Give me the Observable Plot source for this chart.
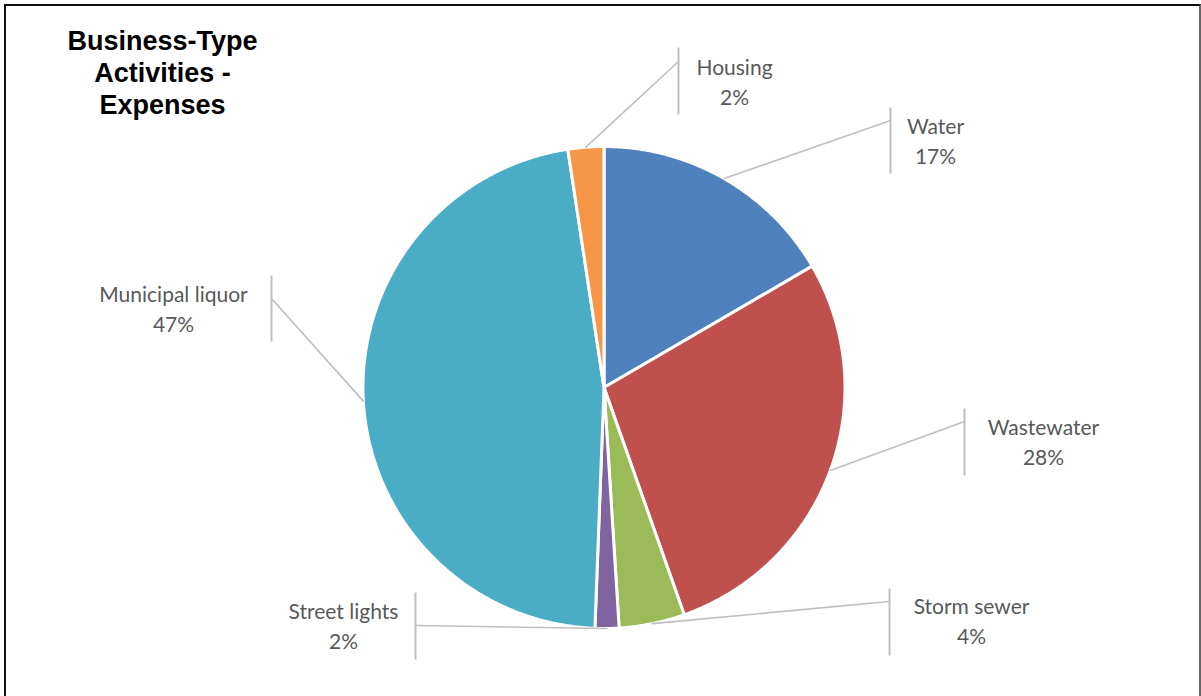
<!DOCTYPE html>
<html>
<head>
<meta charset="utf-8">
<script src="https://cdn.jsdelivr.net/npm/d3@7"></script>
<script src="https://cdn.jsdelivr.net/npm/@observablehq/plot@0.6"></script>
<style>
  html, body { margin: 0; padding: 0; background: #fff; }
  #wrap { position: relative; width: 1201px; height: 696px; overflow: hidden; }
  #border { position: absolute; left: 4px; top: 4px; width: 1193px; height: 700px;
            border-left: 2px solid #111; border-top: 2px solid #111; border-right: 2px solid #666;
            pointer-events: none; }
</style>
</head>
<body>
<div id="wrap"><div id="border"></div></div>
<script>
// ---- data ----
const categories = ["Water", "Wastewater", "Storm sewer", "Street lights", "Municipal liquor", "Housing"];
const values = [16.6, 28.0, 4.4, 1.6, 47.0, 2.4];
const colors = ["#4F81BD", "#C0504D", "#9BBB59", "#8064A2", "#4BACC6", "#F79646"];
const titleText = "Business-Type\nActivities -\nExpenses";

// ---- label layout (pixel positions chosen as in the reference) ----
const cx = 603.5, cy = 387, R = 241;
const toX = px => (px - cx) / R;
const toY = py => (cy - py) / R;
const labelLayout = {
  "Water":            {barX: 890, barY1: 107, barY2: 173, elbowY: 120, textX: 935,  textY: 139},
  "Wastewater":       {barX: 964, barY1: 408, barY2: 475, elbowY: 421, textX: 1043, textY: 440},
  "Storm sewer":      {barX: 889, barY1: 588, barY2: 655, elbowY: 601, textX: 971,  textY: 619},
  "Street lights":    {barX: 415, barY1: 592, barY2: 659, elbowY: 625, textX: 343,  textY: 624},
  "Municipal liquor": {barX: 271, barY1: 275, barY2: 341, elbowY: 298, textX: 173,  textY: 307},
  "Housing":          {barX: 678, barY1: 47,  barY2: 114, elbowY: 61,  textX: 734,  textY: 80}
};

const total = d3.sum(values);
const table = categories.map((c, i) => ({name: c, value: values[i], color: colors[i],
  pct: Math.round(values[i] / total * 100) + "%"}));

const arcs = d3.pie().sort(null).value(d => d.value).startAngle(0).endAngle(2 * Math.PI)(table);

// polygon points for each slice (unit circle coordinates)
const slicePts = [];
for (const a of arcs) {
  slicePts.push({name: a.data.name, color: a.data.color, x: 0, y: 0});
  const steps = Math.max(4, Math.ceil((a.endAngle - a.startAngle) / (Math.PI / 360)));
  for (let k = 0; k <= steps; k++) {
    const t = a.startAngle + (a.endAngle - a.startAngle) * k / steps;
    slicePts.push({name: a.data.name, color: a.data.color, x: Math.sin(t), y: Math.cos(t)});
  }
}

// leader lines
const leaderPts = [];
const barSegs = [];
const labels = [];
for (const a of arcs) {
  const L = labelLayout[a.data.name];
  const m = (a.startAngle + a.endAngle) / 2;
  leaderPts.push({name: a.data.name, x: Math.sin(m), y: Math.cos(m)});
  leaderPts.push({name: a.data.name, x: toX(L.barX), y: toY(L.elbowY)});
  barSegs.push({x1: toX(L.barX), y1: toY(L.barY1), x2: toX(L.barX), y2: toY(L.barY2)});
  labels.push({x: toX(L.textX), y: toY(L.textY), text: a.data.name + "\n" + a.data.pct});
}

const chart = Plot.plot({
  width: 1201,
  height: 696,
  margin: 0,
  style: {background: "transparent"},
  x: {domain: [-1, 1], range: [cx - R, cx + R], axis: null},
  y: {domain: [-1, 1], range: [cy + R, cy - R], axis: null},
  marks: [
    Plot.line(slicePts, {x: "x", y: "y", z: "name", fill: "color", stroke: "white",
      strokeWidth: 3, curve: "linear-closed", strokeLinejoin: "round"}),
    Plot.line(leaderPts, {x: "x", y: "y", z: "name", stroke: "#BFBFBF", strokeWidth: 1.6}),
    Plot.link(barSegs, {x1: "x1", y1: "y1", x2: "x2", y2: "y2", stroke: "#BFBFBF", strokeWidth: 2}),
    Plot.text(labels, {x: "x", y: "y", text: "text", fill: "#595959", fontSize: 21,
      fontFamily: "Lato, 'Open Sans', sans-serif", textAnchor: "middle", lineAnchor: "middle", lineHeight: 1.4}),
    Plot.text([titleText], {frameAnchor: "top-left", dx: 162, dy: 26, text: d => d,
      textAnchor: "middle", lineAnchor: "top", lineHeight: 1.2, fontSize: 27, fontWeight: "bold",
      fill: "#000", fontFamily: "'Liberation Sans', Arial, sans-serif"})
  ]
});
document.getElementById("wrap").prepend(chart);
</script>
</body>
</html>
